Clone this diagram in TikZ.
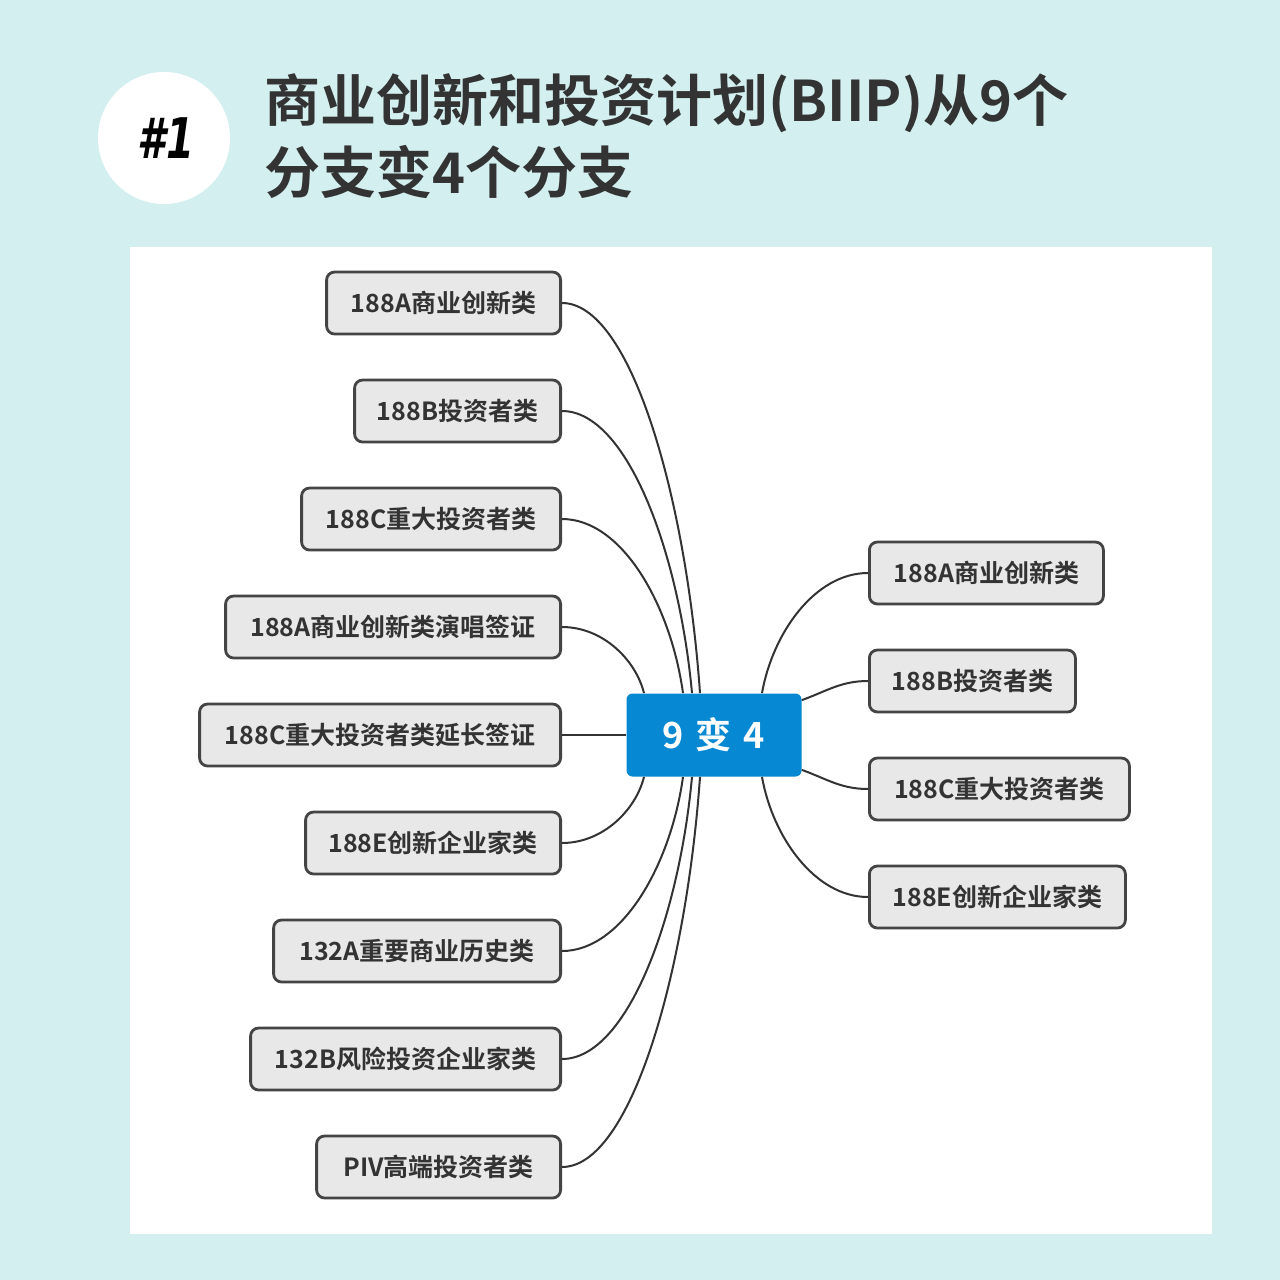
\documentclass[tikz,border=0pt]{standalone}
\usepackage{fontspec}
\usetikzlibrary{calc}
\setmainfont{Noto Sans CJK SC}[BoldFont={Noto Sans CJK SC Bold}]
\newfontfamily\hashfont{DejaVu Sans}
\definecolor{bgc}{HTML}{D3EFEF}
\definecolor{nodef}{HTML}{E8E8E8}
\definecolor{nodeb}{HTML}{444444}
\definecolor{txt}{HTML}{333333}
\definecolor{cblue}{HTML}{0688D2}
\tikzset{
  leaf/.style={draw=nodeb, line width=1.4pt, fill=nodef, rounded corners=4pt,
    minimum height=31pt, inner sep=0pt, text=txt,
    font=\bfseries\fontsize{12.5}{14}\selectfont},
  conn/.style={draw=txt, line width=1pt},
  branch/.style={to path={let \p1=(\tikztostart), \p2=(\tikztotarget) in
    .. controls ({(\x1+\x2)/2},\y1) and ({\x2-0.1*(\x2-\x1)},{(\y1+\y2)/2}) .. (\tikztotarget)}},
}
\begin{document}
\begin{tikzpicture}[x=0.5pt,y=-0.5pt]
\fill[bgc] (0,0) rectangle (1280,1280);
\useasboundingbox (0,0) rectangle (1280,1280);
\fill[white] (130,247) rectangle (1212,1234);
\node[circle, fill=white, minimum size=66pt, inner sep=0pt] (badge) at (164,138) {};
\node[font=\hashfont\bfseries\itshape\fontsize{28}{30}\selectfont, xscale=0.72] (hash) at (166,138) {\#1};
\node[anchor=west, inner sep=0pt, align=left, text=txt, font=\bfseries\fontsize{28}{36}\selectfont] (title) at (264,136) {商业创新和投资计划(BIIP)从9个\\分支变4个分支};

\node[fill=cblue, rounded corners=3pt, minimum width=87.5pt, minimum height=41.5pt, inner sep=0pt, text=white, font=\bfseries\fontsize{18}{20}\selectfont] (c) at (714,735) {9\,\,变\,\,4};

\node[leaf, anchor=east, minimum width=117pt] (l1) at (562,303) {188A商业创新类};
\node[leaf, anchor=east, minimum width=103pt] (l2) at (562,411) {188B投资者类};
\node[leaf, anchor=east, minimum width=129.5pt] (l3) at (562,519) {188C重大投资者类};
\node[leaf, anchor=east, minimum width=167.5pt] (l4) at (562,627) {188A商业创新类演唱签证};
\node[leaf, anchor=east, minimum width=180.5pt] (l5) at (562,735) {188C重大投资者类延长签证};
\node[leaf, anchor=east, minimum width=127.5pt] (l6) at (562,843) {188E创新企业家类};
\node[leaf, anchor=east, minimum width=143.5pt] (l7) at (562,951) {132A重要商业历史类};
\node[leaf, anchor=east, minimum width=155pt] (l8) at (562,1059) {132B风险投资企业家类};
\node[leaf, anchor=east, minimum width=122pt] (l9) at (562,1167) {PIV高端投资者类};

\node[leaf, anchor=west, minimum width=117pt] (r1) at (868,573) {188A商业创新类};
\node[leaf, anchor=west, minimum width=103pt] (r2) at (868,681) {188B投资者类};
\node[leaf, anchor=west, minimum width=130pt] (r3) at (868,789) {188C重大投资者类};
\node[leaf, anchor=west, minimum width=128pt] (r4) at (868,897) {188E创新企业家类};

\draw[conn] (l1.east) to[branch] ([xshift=-7pt]c.north);
\draw[conn] (l2.east) to[branch] ([xshift=-11pt]c.north);
\draw[conn] (l3.east) to[branch] ([xshift=-15.5pt]c.north);
\draw[conn] (l4.east) to[branch] ([xshift=-35pt]c.north);
\draw[conn] (l5.east) -- (c.west);
\draw[conn] (l6.east) to[branch] ([xshift=-35pt]c.south);
\draw[conn] (l7.east) to[branch] ([xshift=-15.5pt]c.south);
\draw[conn] (l8.east) to[branch] ([xshift=-11pt]c.south);
\draw[conn] (l9.east) to[branch] ([xshift=-7pt]c.south);
\draw[conn] (r1.west) to[branch] ([xshift=24pt]c.north);
\draw[conn] ([yshift=-3.5pt]c.north east) to[out=20,in=180] (r2.west);
\draw[conn] ([yshift=3.5pt]c.south east) to[out=-20,in=180] (r3.west);
\draw[conn] (r4.west) to[branch] ([xshift=24pt]c.south);
\end{tikzpicture}
\end{document}
